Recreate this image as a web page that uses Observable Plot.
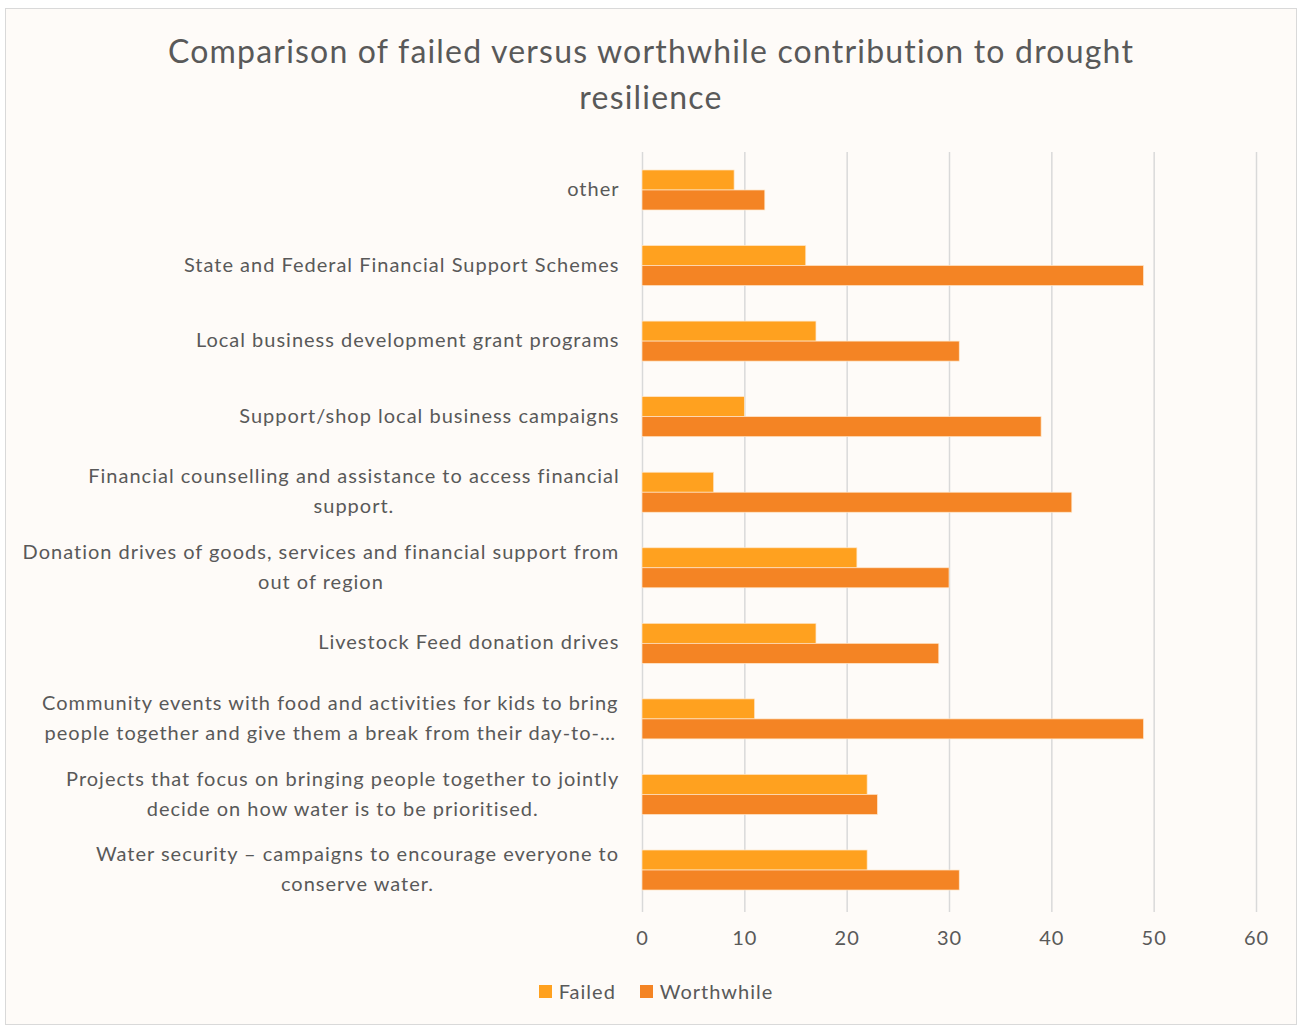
<!DOCTYPE html>
<html>
<head>
<meta charset="utf-8">
<script src="https://cdn.jsdelivr.net/npm/d3@7"></script>
<script src="https://cdn.jsdelivr.net/npm/@observablehq/plot@0.6"></script>
<style>
  html, body { margin: 0; padding: 0; background: #ffffff; }
  body { width: 1298px; height: 1026px; position: relative; overflow: hidden; font-family: Lato, "Open Sans", sans-serif; }
  #frame { position: absolute; left: 5px; top: 8px; width: 1290px; height: 1015px; border: 1px solid #d9d9d9; background: #fefbf8; }
  #title { position: absolute; left: 0; top: 28px; width: 1302px; text-align: center; font-size: 32px; line-height: 46px; color: #595959; letter-spacing: 1.2px; }
  #chart { position: absolute; left: 0; top: 140px; color: #595959; }
  #legend { position: absolute; left: 5px; top: 979px; width: 1302px; display: flex; justify-content: center; gap: 24px; font-size: 20px; color: #595959; letter-spacing: 1px; }
  #legend .item { display: flex; align-items: center; gap: 7px; }
  #legend .sw { width: 13px; height: 13px; display: inline-block; }
</style>
</head>
<body>
<div id="frame"></div>
<div id="title">Comparison of failed versus worthwhile contribution to drought<br>resilience</div>
<div id="chart"></div>
<div id="legend"></div>
<script>
const categories = [
  "other",
  "State and Federal Financial Support Schemes",
  "Local business development grant programs",
  "Support/shop local business campaigns",
  "Financial counselling and assistance to access financial support.",
  "Donation drives of goods, services and financial support from out of region",
  "Livestock Feed donation drives",
  "Community events with food and activities for kids to bring people together and give them a break from their day-to-day",
  "Projects that focus on bringing people together to jointly decide on how water is to be prioritised.",
  "Water security – campaigns to encourage everyone to conserve water."
];
const tickLabels = [
  "other",
  "State and Federal Financial Support Schemes",
  "Local business development grant programs",
  "Support/shop local business campaigns",
  "Financial counselling and assistance to access financial\nsupport.",
  "Donation drives of goods, services and financial support from\nout of region",
  "Livestock Feed donation drives",
  "Community events with food and activities for kids to bring\npeople together and give them a break from their day-to-…",
  "Projects that focus on bringing people together to jointly\ndecide on how water is to be prioritised.",
  "Water security – campaigns to encourage everyone to\nconserve water."
];
const failed = [9, 16, 17, 10, 7, 21, 17, 11, 22, 22];
const worthwhile = [12, 49, 31, 39, 42, 30, 29, 49, 23, 31];
const seriesNames = ["Failed", "Worthwhile"];
const seriesColors = ["#ffa11f", "#f48424"];
const xTicks = [0, 10, 20, 30, 40, 50, 60];

const fontFamily = "Lato, 'Open Sans', sans-serif";
const labelSize = 20;
const labelSpacing = 1; // px letter spacing

const rows = categories.map((c, i) => ({category: c, label: tickLabels[i], failed: failed[i], worthwhile: worthwhile[i]}));

// measure label widths so that wrapped lines are centred within a right-aligned block
const ctx = document.createElement("canvas").getContext("2d");
ctx.font = `${labelSize}px ${fontFamily}`;
const textWidth = s => ctx.measureText(s).width + labelSpacing * s.length;
const labelMarks = rows.map(r => {
  const w = d3.max(r.label.split("\n"), textWidth);
  return Plot.text([r], {
    y: "category",
    text: "label",
    frameAnchor: "left",
    textAnchor: "middle",
    dx: -(23 + w / 2),
    dy: -4,
    lineHeight: 1.5,
    fontSize: labelSize,
    fill: "#595959",
    style: {letterSpacing: `${labelSpacing}px`}
  });
});

const chart = Plot.plot({
  width: 1298,
  height: 820,
  marginLeft: 642,
  marginRight: 42,
  marginTop: 12,
  marginBottom: 52,
  style: {background: "transparent", fontFamily: fontFamily, color: "#595959", overflow: "visible", letterSpacing: `${labelSpacing}px`},
  x: {domain: [0, 60], ticks: xTicks, axis: null},
  y: {type: "band", domain: categories, paddingInner: 0.4706, paddingOuter: 0.238, round: false, axis: null},
  marks: [
    Plot.ruleX(xTicks, {stroke: "#d9d9d9", strokeWidth: 1.5, insetBottom: -4}),
    Plot.barX(rows, {y: "category", x: "failed", fill: seriesColors[0], insetBottom: 20, stroke: "#ffe6c8", strokeWidth: 0.7}),
    Plot.barX(rows, {y: "category", x: "worthwhile", fill: seriesColors[1], insetTop: 20, stroke: "#ffe6c8", strokeWidth: 0.7}),
    Plot.axisX(xTicks, {tickSize: 0, tickPadding: 22, fontSize: 20, fill: "#595959", tickFormat: d => String(d)}),
    ...labelMarks
  ]
});
document.getElementById("chart").appendChild(chart);

const legend = document.getElementById("legend");
seriesNames.forEach((name, i) => {
  const item = document.createElement("div");
  item.className = "item";
  const sw = document.createElement("span");
  sw.className = "sw";
  sw.style.background = seriesColors[i];
  const t = document.createElement("span");
  t.textContent = name;
  item.appendChild(sw);
  item.appendChild(t);
  legend.appendChild(item);
});
</script>
</body>
</html>
